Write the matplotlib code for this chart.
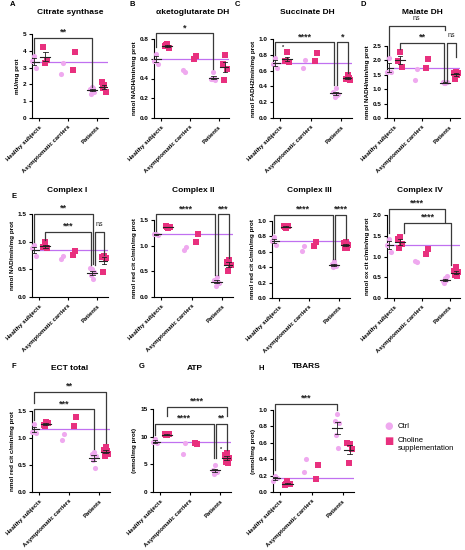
import numpy as np
import matplotlib
matplotlib.use('Agg')
import matplotlib.pyplot as plt

plt.rcParams['font.family'] = ['Liberation Sans', 'DejaVu Sans']
plt.rcParams['font.weight'] = 'bold'

W, H = 465, 550
CTRL_C = '#EFA9EF'
CHOL_C = '#E8307E'
REF_C = '#C070F0'
BR_C = '#3a3a3a'

groups = ['Healthy subjects', 'Asymptomatic carriers', 'Patients']

# values: [healthy, asymptomatic, patients]
cs_ctrl = [[3.7, 3.4, 2.95], [3.3, 2.6], [1.85, 1.75, 1.55, 1.4, 1.8]]
cs_chol = [[3.3, 4.2, 3.45], [3.9, 2.88], [1.95, 2.15, 1.55, 1.8]]
akg_ctrl = [[0.65, 0.58, 0.55], [0.47, 0.485], [0.47, 0.40, 0.38, 0.39, 0.41]]
akg_chol = [[0.75, 0.73, 0.71, 0.74], [0.625, 0.595], [0.64, 0.55, 0.5, 0.38]]
sdh_ctrl = [[0.76, 0.68, 0.63], [0.74, 0.63], [0.38, 0.33, 0.30, 0.26, 0.29]]
sdh_chol = [[0.84, 0.72, 0.71, 0.72], [0.82, 0.72], [0.55, 0.5, 0.48, 0.49, 0.51]]
mdh_ctrl = [[2.08, 1.58, 1.6], [1.7, 1.31], [1.2, 1.25, 1.24, 1.22]]
mdh_chol = [[2.3, 1.97, 1.78], [2.05, 1.74], [1.6, 1.55, 1.57, 1.36, 1.5]]
c1_ctrl = [[0.94, 0.88, 0.74], [0.74, 0.68], [0.5, 0.52, 0.45, 0.4, 0.32]]
c1_chol = [[1.0, 0.9, 0.88, 0.9], [0.83, 0.76], [0.75, 0.72, 0.7, 0.46]]
c2_ctrl = [[1.23, 1.22, 1.21], [0.98, 0.92], [0.38, 0.33, 0.28, 0.21, 0.3]]
c2_chol = [[1.34, 1.38, 1.37, 1.36], [1.23, 1.08], [0.72, 0.68, 0.62, 0.5]]
c3_ctrl = [[0.79, 0.74, 0.69], [0.67, 0.61], [0.48, 0.44, 0.42, 0.4, 0.43]]
c3_chol = [[0.91, 0.94, 0.93, 0.92], [0.73, 0.68], [0.73, 0.72, 0.69, 0.65, 0.65]]
c4_ctrl = [[1.43, 1.28, 1.12], [0.87, 0.9], [0.47, 0.42, 0.52, 0.35, 0.43]]
c4_chol = [[1.48, 1.42, 1.3, 1.2], [1.17, 1.07], [0.74, 0.64, 0.62, 0.55, 0.52]]
ect_ctrl = [[1.26, 1.12, 1.1], [1.07, 0.97], [0.75, 0.7, 0.66, 0.6, 0.44]]
ect_chol = [[1.3, 1.24, 1.28, 1.22], [1.38, 1.22], [0.84, 0.78, 0.7, 0.66, 0.76]]
atp_ctrl = [[9.5, 9.0, 8.8], [8.8, 6.9], [4.9, 4.0, 3.7, 3.2, 3.8]]
atp_chol = [[10.3, 10.5, 10.4, 10.35], [8.7, 8.8], [7.0, 6.6, 6.2, 5.4, 5.3]]
tb_ctrl = [[0.19, 0.14, 0.17], [0.4, 0.25], [0.95, 0.86, 0.84, 0.7, 0.54]]
tb_chol = [[0.13, 0.08, 0.1, 0.1], [0.33, 0.16], [0.59, 0.6, 0.53, 0.35]]

OFF = [-0.18, 0.22]
JIT = [0.0, -0.07, 0.07, -0.035, 0.035]


def pos(g, s):
    return g + OFF[s]


# (label, x1, x2, top, left leg end, right leg end)
cs_br = [('**', pos(0, 0), pos(2, 0), 4.76, 3.86, 1.86)]
akg_br = [('*', pos(0, 0), pos(2, 0), 0.857, 0.72, 0.5)]
sdh_br = [('****', pos(0, 0), pos(2, 0) - 0.04, 0.958, 0.80, 0.42),
          ('*', pos(2, 0) + 0.05, pos(2, 1), 0.958, 0.42, 0.57)]
mdh_br = [('ns', pos(0, 0), pos(2, 0), 3.21, 2.18, 3.06),
          ('**', pos(0, 1), pos(2, 0) - 0.03, 2.61, 2.41, 1.26),
          ('ns', pos(2, 0) + 0.06, pos(2, 1), 2.61, 1.26, 2.12)]
c1_br = [('**', pos(0, 0), pos(2, 0) + 0.02, 1.5, 1.0, 0.6),
         ('***', pos(0, 1), pos(2, 0) - 0.04, 1.18, 1.03, 0.58),
         ('ns', pos(2, 0) + 0.08, pos(2, 1), 1.18, 0.58, 0.76)]
c2_br = [('****', pos(0, 0), pos(2, 0) - 0.04, 1.61, 1.29, 0.43),
         ('***', pos(2, 0) + 0.05, pos(2, 1), 1.61, 0.43, 0.76)]
c3_br = [('****', pos(0, 0), pos(2, 0) - 0.04, 1.08, 0.84, 0.51),
         ('****', pos(2, 0) + 0.05, pos(2, 1), 1.08, 0.51, 0.77)]
c4_br = [('****', pos(0, 0), pos(2, 0), 2.14, 1.56, 1.84),
         ('****', 0.38, 2.03, 1.81, 1.56, 0.79)]
ect_br = [('**', pos(0, 0), pos(2, 1), 1.86, 1.64, 0.9),
          ('***', pos(0, 0), pos(2, 0), 1.53, 1.33, 0.79)]
atp_br = [('****', pos(0, 1), pos(2, 1), 15.36, 13.66, 13.66),
          ('****', pos(0, 0), pos(2, 0) - 0.04, 12.3, 10.3, 6.1),
          ('**', pos(2, 0) + 0.05, pos(2, 1), 12.3, 6.1, 7.6)]
tb_br = [('***', pos(0, 0), pos(2, 0), 1.07, 0.27, 1.0)]

# (ctrl, chol, brackets, ymax, ystep, ylabel, title, letter, box l r t b in px, title xy, letter xy)
panels = [
    (cs_ctrl, cs_chol, cs_br, 5, 1, 'mU/mg prot', 'Citrate synthase', 'A',
     (32, 108, 34, 118), (70, 13), (13, 5)),
    (akg_ctrl, akg_chol, akg_br, 0.8, 0.2, 'nmol NADH/min/mg prot', 'αketoglutarate DH', 'B',
     (154, 229, 39, 118), (193, 13), (132, 5)),
    (sdh_ctrl, sdh_chol, sdh_br, 1.0, 0.2, 'nmol FADH2/min/mg prot', 'Succinate DH', 'C',
     (273, 352, 39, 118), (307, 13), (237, 5)),
    (mdh_ctrl, mdh_chol, mdh_br, 2.5, 0.5, 'nmol NADH/min/mg prot', 'Malate DH', 'D',
     (387, 460, 46, 118), (422, 13), (363, 5)),
    (c1_ctrl, c1_chol, c1_br, 1.5, 0.5, 'nmol NAD/min/mg prot', 'Complex I', 'E',
     (32, 108, 214, 297), (67, 191), (14, 197)),
    (c2_ctrl, c2_chol, c2_br, 1.5, 0.5, 'nmol red cit c/min/mg prot', 'Complex II', '',
     (154, 233, 220, 297), (193, 191), None),
    (c3_ctrl, c3_chol, c3_br, 1.0, 0.2, 'nmol red cit c/min/mg prot', 'Complex III', '',
     (272, 350, 221, 298), (309, 191), None),
    (c4_ctrl, c4_chol, c4_br, 2.0, 0.5, 'nmol ox cit c/min/mg prot', 'Complex IV', '',
     (387, 460, 215, 298), (420, 191), None),
    (ect_ctrl, ect_chol, ect_br, 1.5, 0.5, 'nmol red cit c/min/mg prot', 'ECT total', 'F',
     (32, 110, 411, 492), (70, 368), (14, 367)),
    (atp_ctrl, atp_chol, atp_br, 15, 5, '(nmol/mg prot)', 'ATP', 'G',
     (153, 231, 409, 492), (195, 368), (142, 367)),
    (tb_ctrl, tb_chol, tb_br, 1.0, 0.2, '(nmol/mg prot)', 'TBARS', 'H',
     (273, 354, 410, 492), (306, 367), (261, 368)),
]

fig = plt.figure(figsize=(W / 100, H / 100), dpi=100)

for ctrl, chol, brs, ymax, ystep, ylab, title, letter, box, txy, lxy in panels:
    l, r, t, b = box
    ax = fig.add_axes([l / W, 1 - b / H, (r - l) / W, (b - t) / H])
    ax.set_xlim(-0.24, 2.36)
    ax.set_ylim(0, ymax)
    for s, (series, col, mk) in enumerate([(ctrl, CTRL_C, 'o'), (chol, CHOL_C, 's')]):
        for g, vals in enumerate(series):
            xs = [pos(g, s) + JIT[i] for i in range(len(vals))]
            ax.plot(xs, vals, mk, color=col, ms=3.7, mew=0, zorder=3, clip_on=False)
            if len(vals) >= 3:
                m = np.mean(vals)
                se = np.std(vals, ddof=1) / np.sqrt(len(vals))
                x0 = pos(g, s)
                ax.plot([x0 - 0.17, x0 + 0.17], [m, m], color='#222', lw=0.8, zorder=4)
                ax.plot([x0, x0], [m - se, m + se], color='#222', lw=0.6, zorder=4)
                for yy in (m - se, m + se):
                    ax.plot([x0 - 0.08, x0 + 0.08], [yy, yy], color='#222', lw=0.6, zorder=4)
    ref = np.mean(ctrl[0])
    ax.axhline(ref, color=REF_C, lw=0.9, zorder=2)

    for lab, x1, x2, top, yl, yr in brs:
        ax.plot([x1, x1, x2, x2], [yl, top, top, yr], color=BR_C, lw=0.9,
                clip_on=False, zorder=5)
        ns = lab == 'ns'
        ax.text((x1 + x2) / 2, top + ymax * (0.05 if ns else 0.015), lab,
                ha='center', va='bottom', fontsize=5 if ns else 6.5,
                fontweight='normal' if ns else 'bold', color='#222', clip_on=False)

    ax.set_yticks(np.arange(0, ymax + ystep / 2, ystep))
    if ystep >= 1:
        ax.set_yticklabels([f'{v:g}' for v in ax.get_yticks()])
    else:
        ax.set_yticklabels([f'{v:.1f}' for v in ax.get_yticks()])
    ax.set_xticks([0, 1, 2])
    ax.set_xticklabels(groups, rotation=45, ha='right', rotation_mode='anchor',
                       fontsize=4.3, fontweight='bold')
    ax.tick_params(axis='y', labelsize=4.6, length=2.5, width=0.8, pad=1.5)
    ax.tick_params(axis='x', length=2.5, width=0.8, pad=2)
    ax.set_ylabel(ylab, fontsize=4.6, fontweight='bold', labelpad=2)
    for sp in ['top', 'right']:
        ax.spines[sp].set_visible(False)
    for sp in ['left', 'bottom']:
        ax.spines[sp].set_linewidth(0.8)

    fig.text(txy[0] / W, 1 - txy[1] / H, title, ha='center', va='center',
             fontsize=6, fontweight='bold')
    if lxy is not None:
        fig.text(lxy[0] / W, 1 - lxy[1] / H, letter, ha='center', va='center',
                 fontsize=5.5, fontweight='bold')

# small single-comparison marks seen in C and G
fig.text(283 / W, 1 - 47 / H, '*', ha='center', va='center', fontsize=4, color='#222')
fig.text(221 / W, 1 - 449 / H, '*', ha='center', va='center', fontsize=4, color='#222')

# legend
fig.text(389 / W, 1 - 426 / H, '●', ha='center', va='center', fontsize=7, color=CTRL_C,
         family='DejaVu Sans')
fig.text(389 / W, 1 - 441 / H, '■', ha='center', va='center', fontsize=7, color=CHOL_C,
         family='DejaVu Sans')
fig.text(398 / W, 1 - 426 / H, 'Ctrl', ha='left', va='center', fontsize=5.5, fontweight='normal')
fig.text(398 / W, 1 - 437 / H, 'Choline\nsupplementation', ha='left', va='top',
         fontsize=5.5, fontweight='normal', linespacing=1.1)

fig.savefig('out.png', dpi=100)
